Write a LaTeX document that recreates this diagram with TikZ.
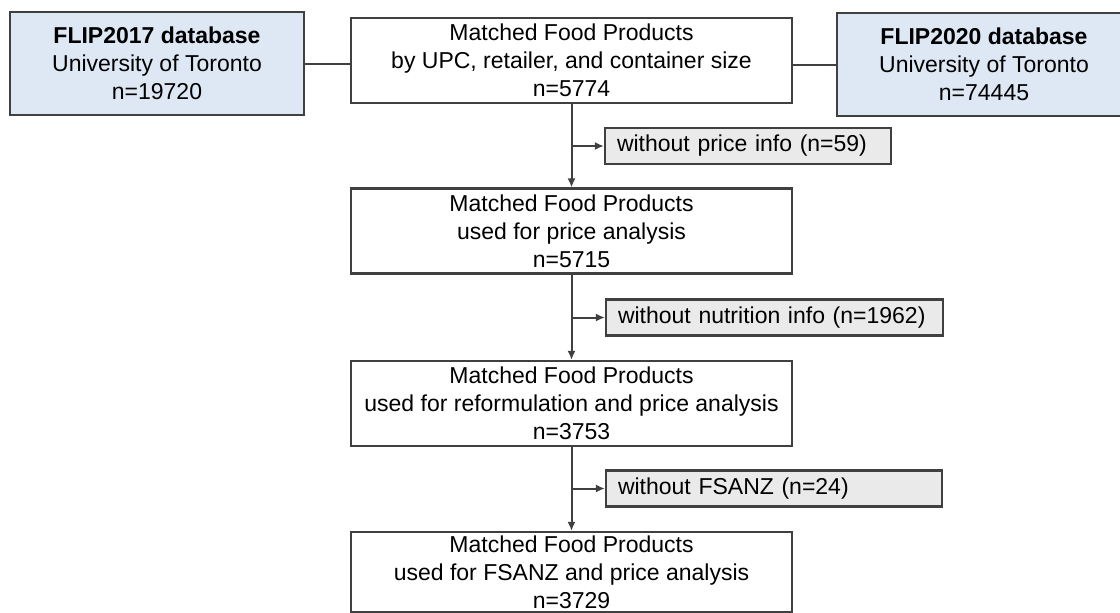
\documentclass[tikz,border=0pt]{standalone}
\usepackage{fontspec}
\setmainfont{Liberation Sans}
\usepackage{tikz}
\usetikzlibrary{arrows.meta}

\definecolor{srcblue}{RGB}{221,232,244}
\definecolor{exclgray}{RGB}{234,234,234}
\definecolor{edgegray}{RGB}{64,64,64}

\begin{document}
\begin{tikzpicture}[x=1pt,y=-1pt,
  font=\fontsize{23}{28}\selectfont,
  mainbox/.style={draw=edgegray,line width=2.2pt,fill=white,align=center,
    inner sep=0pt,minimum width=441pt,minimum height=85pt},
  srcbox/.style={mainbox,fill=srcblue,minimum width=294pt,minimum height=103pt},
  exclbox/.style={draw=edgegray,line width=2.2pt,fill=exclgray,align=left,
    inner xsep=12pt,inner ysep=0pt,minimum height=36pt},
  flow/.style={draw=edgegray,line width=2pt,-{Latex[length=9pt,width=8pt]}},
  link/.style={draw=edgegray,line width=2pt}]
\useasboundingbox[fill=white] (0,0) rectangle (1120,613);

% sources
\node[srcbox] (flipA) at (157,63.5) {\textbf{FLIP2017 database}\\University of Toronto\\n=19720};
\node[srcbox] (flipB) at (984,64.5) {\textbf{FLIP2020 database}\\University of Toronto\\n=74445};

% main flow
\node[mainbox] (matched) at (571.5,60.5) {Matched Food Products\\by UPC, retailer, and container size\\n=5774};
\node[mainbox] (price) at (571.5,231) {Matched Food Products\\used for price analysis\\n=5715};
\node[mainbox] (reform) at (571.5,403.5) {Matched Food Products\\used for reformulation and price analysis\\n=3753};
\node[mainbox,minimum height=80pt] (fsanz) at (571.5,572) {Matched Food Products\\used for FSANZ and price analysis\\n=3729};

% exclusions
\node[exclbox,text width=262pt] (noprice) at (748,146) {without price info (n=59)};
\node[exclbox,text width=313pt] (nonutr) at (774.5,317.5) {without nutrition info (n=1962)};
\node[exclbox,text width=312pt] (nofsanz) at (774,488.5) {without FSANZ (n=24)};

\path[link] (flipA.east) -- (flipA.east -| matched.west);
\path[link] (flipB.west) -- (flipB.west -| matched.east);

\path[flow] (matched) -- (price);
\path[flow] (price) -- (reform);
\path[flow] (reform) -- (fsanz);

\path[flow] (matched.south |- noprice.west) -- (noprice.west);
\path[flow] (price.south |- nonutr.west) -- (nonutr.west);
\path[flow] (reform.south |- nofsanz.west) -- (nofsanz.west);
\end{tikzpicture}
\end{document}
